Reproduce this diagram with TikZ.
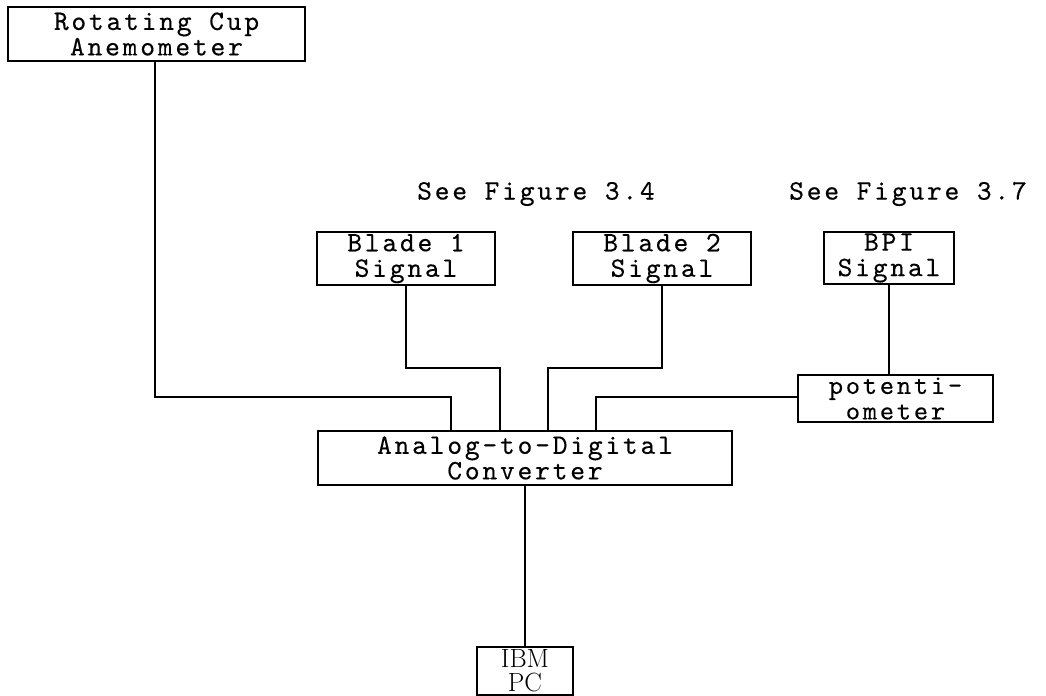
\documentclass[tikz,border=0pt]{standalone}
\usepackage{fontspec}
\usetikzlibrary{positioning,calc}

\newfontfamily\typewfont{lmmono10-regular}[Extension=.otf, LetterSpace=10, FakeBold=0.3]
\newcommand{\typefont}{\typewfont\fontsize{16}{14.5}\selectfont}

\begin{document}
\begin{tikzpicture}[x=0.02cm, y=-0.02cm,
  blockbox/.style={rectangle, draw, line width=1pt, inner sep=0pt, align=center, font=\typefont},
  figlabel/.style={inner sep=0pt, font=\typefont},
  wire/.style={line width=1.6pt, line join=miter}
]
  \useasboundingbox (0,0) rectangle (1046,696);

  \node[blockbox, minimum width=5.94cm, minimum height=1.08cm] (rcup) at (156.5,34) {Rotating Cup\\Anemometer};
  \node[figlabel] (fig34) at (536,194) {See Figure 3.4};
  \node[figlabel] (fig37) at (908,194) {See Figure 3.7};
  \node[blockbox, minimum width=3.56cm, minimum height=1.06cm] (blade1) at (406,258.5) {Blade 1\\Signal};
  \node[blockbox, minimum width=3.56cm, minimum height=1.06cm] (blade2) at (662,258.5) {Blade 2\\Signal};
  \node[blockbox, minimum width=2.6cm, minimum height=1.04cm] (bpi) at (889,258) {BPI\\Signal};
  \node[blockbox, minimum width=3.9cm, minimum height=0.94cm, font=\typewfont\fontsize{15.5}{14.5}\selectfont] (pot) at (895.5,398.5) {potenti-\\ometer};
  \node[blockbox, minimum width=8.28cm, minimum height=1.08cm] (adc) at (525,458) {Analog-to-Digital\\Converter};
  \node[blockbox, minimum width=1.92cm, minimum height=0.96cm, font=\rmfamily\fontsize{15}{13.5}\selectfont] (pc) at (525,671) {IBM\\PC};

  \coordinate (j1) at (451,397);
  \coordinate (j2) at (500,368);
  \coordinate (j3) at (548,368);
  \coordinate (j4) at (596,397);

  \draw[wire] (rcup.south -| 155,0) |- (j1) -- (j1 |- adc.north);
  \draw[wire] (blade1.south) |- (j2) -- (j2 |- adc.north);
  \draw[wire] (blade2.south) |- (j3) -- (j3 |- adc.north);
  \draw[wire] (bpi.south) -- (bpi.south |- pot.north);
  \draw[wire] (pot.west |- j4) -- (j4) -- (j4 |- adc.north);
  \draw[wire] (adc.south) -- (pc.north);
\end{tikzpicture}
\end{document}
